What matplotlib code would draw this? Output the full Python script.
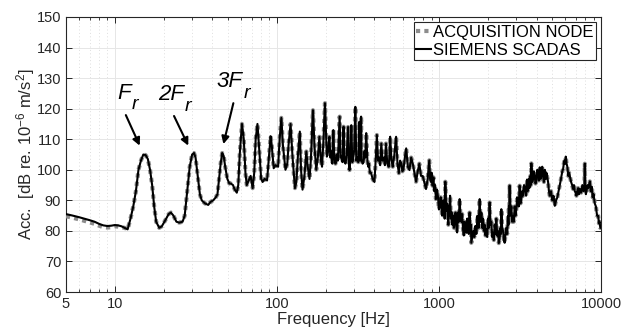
import matplotlib
matplotlib.use("Agg")
import matplotlib.pyplot as plt
from matplotlib.ticker import FixedLocator, LogLocator, NullFormatter, FixedFormatter

plt.rcParams['font.family'] = ['Liberation Sans', 'DejaVu Sans']
plt.rcParams['mathtext.fontset'] = 'custom'
plt.rcParams['mathtext.it'] = 'Liberation Sans:italic'
plt.rcParams['mathtext.rm'] = 'Liberation Sans'
plt.rcParams['mathtext.default'] = 'regular'

# ---- data ----
freq_hz = [
    5, 5.5, 6, 6.5, 7, 7.5, 8, 8.5, 9, 9.5, 10, 10.5, 11, 11.5, 12,
    12.5, 13, 13.5, 14, 14.5, 15, 15.5, 16, 16.5, 17, 17.5, 18, 18.8,
    19.5, 20.5, 21.5, 22.2, 23, 24, 25, 26.2, 27, 28, 29, 30, 30.8,
    31.5, 32.5, 33.5, 34.4, 36, 37.7, 39, 40.5, 42, 43, 44, 45, 46,
    47, 48, 49.5, 50.9, 52, 53.6, 55, 56.6, 57.8, 59, 60.9, 62.5, 64,
    65.2, 67, 68.9, 70.9, 72.5, 74, 75.9, 78, 80, 81.7, 84, 87, 89,
    91.5, 93, 95.6, 98, 101.8, 104, 106.6, 109, 113, 116, 118, 121.5,
    125, 129.3, 132, 135, 138.6, 141, 144, 148, 152, 155, 159, 162,
    167, 171, 175, 179, 183, 187, 190, 194, 198, 203.5, 207, 211, 214,
    217, 220, 223, 226, 230, 234, 238, 244, 247, 251, 254, 258, 261,
    265, 270, 275, 278, 281, 284, 288, 292, 296, 300, 305, 309, 314,
    318, 323, 326, 328, 331, 333, 338, 343, 347, 351, 356, 362, 366,
    370, 375, 381, 390, 400, 407, 414, 421, 428, 434, 441, 449, 458,
    464, 471, 480, 490, 495, 500, 510, 519, 531, 544, 555, 566, 576,
    587, 595, 604, 616, 628, 643, 658, 674, 690, 706, 723, 740, 757,
    775, 794, 812, 832, 852, 872, 882, 893, 903, 914, 925, 936, 947,
    958, 972, 987, 1000, 1015, 1025, 1035, 1045, 1055, 1065, 1075, 1085,
    1095, 1105, 1115, 1125, 1134, 1143, 1152, 1162, 1172, 1185, 1198, 1211,
    1225, 1238, 1252, 1266, 1281, 1295, 1310, 1326, 1342, 1358, 1375, 1391,
    1408, 1424, 1440, 1457, 1475, 1492, 1510, 1528, 1546, 1556, 1565, 1575,
    1584, 1607, 1630, 1653, 1677, 1703, 1730, 1757, 1784, 1806, 1828, 1850,
    1871, 1893, 1915, 1938, 1961, 1985, 2008, 2031, 2055, 2080, 2105, 2130,
    2156, 2182, 2208, 2234, 2260, 2287, 2314, 2341, 2369, 2385, 2400, 2414,
    2427, 2456, 2485, 2515, 2545, 2575, 2606, 2637, 2669, 2685, 2700, 2715,
    2731, 2764, 2797, 2830, 2864, 2898, 2933, 2968, 3003, 3039, 3075, 3110,
    3148, 3186, 3224, 3262, 3301, 3350, 3398, 3447, 3496, 3525, 3555, 3584,
    3613, 3640, 3665, 3690, 3718, 3763, 3808, 3853, 3898, 3944, 3990, 4040,
    4090, 4138, 4187, 4238, 4290, 4340, 4393, 4445, 4500, 4552, 4606, 4660,
    4716, 4772, 4829, 4915, 5005, 5095, 5187, 5283, 5380, 5475, 5570, 5640,
    5705, 5770, 5840, 5895, 5950, 6005, 6061, 6130, 6200, 6280, 6356, 6450,
    6540, 6635, 6729, 6810, 6890, 6970, 7056, 7140, 7225, 7310, 7399, 7530,
    7670, 7790, 7900, 7945, 7990, 8065, 8140, 8240, 8335, 8435, 8535, 8650,
    8760, 8880, 9000, 9150, 9300, 9455, 9610, 9700, 9800, 9900, 10000,
]
scadas_db = [
    85.5, 85.0, 84.5, 84.0, 83.5, 83.0, 82.3, 81.8, 81.6, 81.7, 81.9, 81.8, 81.5, 81.0, 80.5,
    84.0, 88.0, 93.0, 100.0, 103.0, 105.0, 104.8, 103.5, 100.0, 95.0, 88.0, 83.0, 81.0,
    81.5, 83.5, 85.5, 86.0, 85.0, 83.0, 82.7, 83.0, 85.0, 93.0, 101.0, 105.0, 105.5,
    104.0, 98.0, 92.0, 90.0, 89.0, 88.5, 89.5, 90.0, 91.0, 92.0, 97.0, 102.0, 105.5,
    104.5, 101.0, 97.0, 95.5, 95.5, 95.0, 93.5, 92.5, 95.0, 105.0, 115.0, 110.0, 99.0,
    95.0, 96.5, 98.0, 94.0, 99.0, 110.0, 115.0, 106.0, 97.0, 96.0, 97.0, 96.5, 103.0,
    111.0, 108.0, 100.5, 101.5, 101.0, 110.0, 117.0, 108.0, 100.0, 102.0, 108.0, 115.0,
    104.0, 94.0, 96.0, 105.0, 112.5, 100.0, 93.5, 98.0, 106.0, 101.0, 97.0, 103.0,
    119.5, 107.0, 100.0, 104.0, 110.8, 103.0, 101.0, 110.0, 121.8, 104.3, 106.0, 110.8, 104.0,
    106.0, 102.0, 113.0, 104.0, 102.0, 105.0, 103.0, 117.4, 104.0, 104.3, 102.5, 114.1, 103.5,
    102.0, 105.0, 114.0, 103.0, 99.9, 104.0, 114.6, 102.5, 104.0, 106.5, 120.6, 103.0, 104.0,
    102.5, 115.7, 104.0, 103.0, 117.4, 103.5, 102.0, 102.5, 106.0, 104.0, 112.0, 103.0, 101.0,
    102.0, 99.0, 99.0, 97.0, 96.0, 103.0, 111.4, 103.0, 104.0, 101.5, 108.6, 103.0, 104.0,
    101.5, 108.6, 102.0, 101.0, 104.0, 110.8, 103.0, 101.0, 105.0, 110.8, 102.0, 98.9, 103.0,
    102.0, 99.5, 100.0, 104.0, 107.0, 101.0, 99.9, 104.0, 102.0, 99.0, 96.1, 99.5, 102.0,
    98.0, 98.0, 96.0, 93.7, 97.0, 103.1, 97.0, 96.0, 99.0, 94.8, 97.5, 93.0, 95.0,
    90.4, 93.5, 91.0, 87.0, 88.2, 91.0, 89.0, 85.0, 86.0, 90.0, 88.0, 84.0,
    96.1, 89.0, 86.5, 89.0, 84.9, 82.0, 88.0, 85.0, 91.5, 84.0, 86.0, 82.0,
    85.0, 81.0, 84.5, 86.0, 81.6, 79.5, 86.0, 83.0, 90.4, 85.0, 83.0, 85.5,
    80.5, 78.5, 83.0, 81.0, 79.4, 84.0, 82.0, 79.0, 86.0, 82.0, 80.0, 82.0,
    76.1, 78.0, 80.0, 78.0, 81.6, 79.0, 85.0, 81.0, 90.4, 83.0, 86.0, 81.0,
    84.0, 80.0, 82.0, 78.5, 80.5, 78.0, 84.0, 81.0, 89.3, 82.0, 83.0, 78.0,
    79.4, 77.0, 82.0, 79.0, 84.0, 78.5, 80.0, 76.0, 77.2, 80.0, 81.0, 79.0,
    87.1, 81.0, 80.0, 77.0, 76.1, 79.0, 81.0, 79.0, 84.9, 82.0, 88.0, 85.0,
    94.8, 85.0, 88.0, 83.0, 84.9, 83.0, 88.0, 85.0, 87.0, 91.0, 90.0, 88.0,
    94.8, 89.0, 90.0, 93.0, 91.5, 95.0, 94.0, 91.5, 96.8, 93.0, 94.0, 97.0,
    94.0, 95.0, 98.0, 95.0, 102.1, 96.0, 97.0, 99.5, 98.0, 95.5, 96.5, 100.0,
    99.0, 96.5, 100.8, 97.0, 98.0, 101.0, 98.0, 96.0, 100.0, 97.0, 99.0, 97.5,
    96.0, 93.0, 91.5, 93.0, 90.0, 91.5, 88.2, 90.0, 91.0, 93.0, 94.8, 96.5,
    98.0, 99.5, 100.3, 102.0, 103.0, 102.0, 104.3, 102.0, 101.0, 98.0, 99.0, 97.5,
    96.0, 95.0, 93.7, 95.0, 93.0, 92.5, 91.5, 93.0, 94.0, 92.0, 93.7, 92.5,
    95.0, 93.0, 94.0, 102.0, 94.0, 92.0, 93.0, 95.0, 94.0, 95.0, 96.2, 93.0,
    94.5, 91.0, 92.0, 89.0, 88.0, 85.0, 84.9, 82.5, 83.0, 81.0, 81.0,
]
# the acquisition node differs only slightly below ~11 Hz
acq_low_db = [84.8, 84.3, 83.8, 83.3, 82.8, 82.3, 81.7, 81.2, 81.1, 81.2, 81.5, 81.4, 81.2]
acq_db = acq_low_db + scadas_db[len(acq_low_db):]

series_labels = ['ACQUISITION NODE', 'SIEMENS SCADAS']
x_ticks = [5, 10, 100, 1000, 10000]
x_tick_labels = ['5', '10', '100', '1000', '10000']
y_ticks = [60, 70, 80, 90, 100, 110, 120, 130, 140, 150]

# annotations: (main text, subscript, text pos, arrow tail, arrow head)
ann_main = ['F', '2F', '3F']
ann_sub = ['r', 'r', 'r']
ann_text_xy = [(10.3, 123.2), (18.6, 122.8), (42.6, 127.0)]
ann_tail_xy = [(11.7, 117.9), (23.2, 117.6), (53.9, 121.8)]
ann_head_xy = [(14.25, 107.9), (28.4, 107.9), (46.8, 108.4)]

# ---- figure ----
fig = plt.figure(figsize=(6.36, 3.36), dpi=100)
ax = fig.add_axes([66/636, 1-292/336, (601-66)/636, (292-17)/336])

txt_color = '#262626'
ax.plot(freq_hz, acq_db, linestyle=(0, (1, 1)), color='#8c8c8c', lw=3.0,
        label=series_labels[0], zorder=3)
ax.plot(freq_hz, scadas_db, linestyle='-', color='black', lw=1.5,
        label=series_labels[1], zorder=4)

ax.set_xscale('log')
ax.set_xlim(5, 10000)
ax.set_ylim(60, 150)
ax.xaxis.set_major_locator(FixedLocator(x_ticks))
ax.xaxis.set_major_formatter(FixedFormatter(x_tick_labels))
ax.xaxis.set_minor_locator(LogLocator(base=10, subs=range(2, 10), numticks=20))
ax.xaxis.set_minor_formatter(NullFormatter())
ax.set_yticks(y_ticks)

ax.grid(True, which='major', color='#e6e6e6', lw=0.7, linestyle='-')
ax.grid(True, which='minor', axis='x', color='#dedede', lw=0.7, linestyle=(0, (1, 2.5)))
ax.set_axisbelow(True)

ax.tick_params(which='both', direction='in', top=True, right=True,
               colors=txt_color, labelsize=10.5, labelcolor=txt_color)
ax.tick_params(which='major', length=4, width=0.7)
ax.tick_params(which='minor', length=2.5, width=0.6)
for s in ax.spines.values():
    s.set_color(txt_color)
    s.set_linewidth(0.8)

ax.set_xlabel('Frequency [Hz]', fontsize=12, color=txt_color, labelpad=1)
ax.set_ylabel(r'Acc.  [dB re. 10$^{-6}$ m/s$^{2}$]', fontsize=12, color=txt_color, labelpad=0)

for main, sub, txy, tail, head in zip(ann_main, ann_sub, ann_text_xy, ann_tail_xy, ann_head_xy):
    t = ax.text(txy[0], txy[1], main, fontsize=16, fontstyle='italic',
                ha='left', va='baseline', color='black')
    ax.annotate(sub, xy=(1, 0), xycoords=t, xytext=(0.5, -4.0),
                textcoords='offset points', fontsize=14, fontstyle='italic',
                ha='left', va='baseline', color='black')
    ax.annotate('', xy=head, xytext=tail,
                arrowprops=dict(arrowstyle='-|>', color='black', lw=1.5,
                                mutation_scale=11, shrinkA=0, shrinkB=0))

leg = ax.legend(loc='upper right', fontsize=12, frameon=True, fancybox=False,
                edgecolor='#262626', framealpha=1, handlelength=0.9,
                handletextpad=0.1, borderpad=0.15, labelspacing=0.2,
                borderaxespad=0.3)
leg.get_frame().set_linewidth(0.8)

fig.savefig('out.png', dpi=100)
